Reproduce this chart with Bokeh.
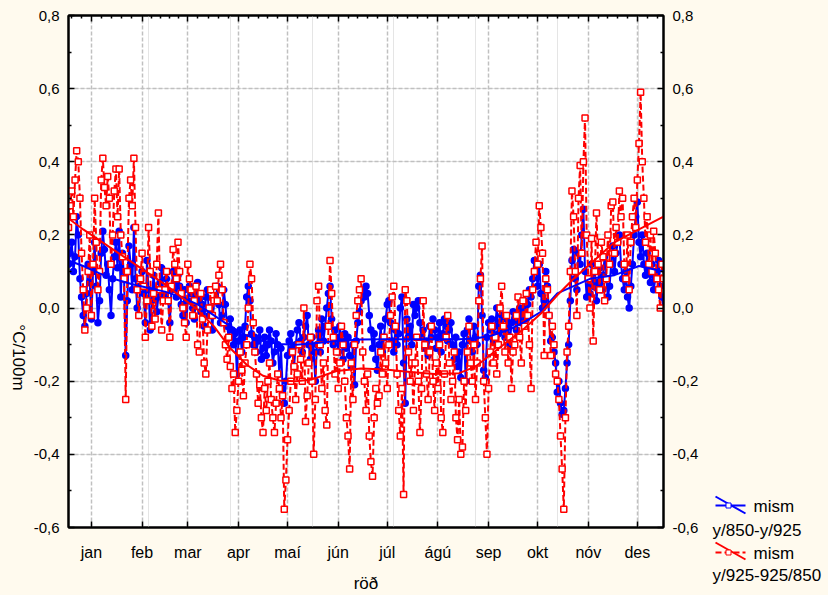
import math
from bokeh.plotting import figure
from bokeh.layouts import row
from bokeh.models import Range1d, FixedTicker, LinearAxis, Grid, ColumnDataSource
from bokeh.core.properties import value
from bokeh.embed import file_html
from bokeh.resources import INLINE

# ---------------- data ----------------
month_labels = ["jan", "feb", "mar", "apr", "maí", "jún", "júl", "ágú", "sep", "okt", "nóv", "des"]
month_pos = [15, 46, 74, 105, 135, 166, 196, 227, 258, 288, 319, 349]
ytick_vals = [-0.6, -0.4, -0.2, 0.0, 0.2, 0.4, 0.6, 0.8]
ytick_labels = ["-0,6", "-0,4", "-0,2", "0,0", "0,2", "0,4", "0,6", "0,8"]
y_title = "°C/100m"
x_title = "röð"
series_names = ["mism", "mism"]
series_sub = ["y/850-y/925", "y/925-925/850"]

# mism y/850-y/925 (blue), daily values by month
blue_jan = [0.12, 0.15, 0.18, 0.10, 0.14, 0.25, 0.20, 0.08, 0.03, -0.02, -0.05, 0.04, 0.12, 0.07, -0.03, 0.10,
            0.18, 0.06, -0.04, 0.02, 0.15, 0.21, 0.16, 0.09, 0.12, 0.05, -0.02, 0.08, 0.14, 0.18, 0.11]
blue_feb = [0.21, 0.03, 0.15, 0.08, -0.13, 0.02, 0.17, 0.12, 0.05, 0.22, 0.08, 0.00, -0.02, 0.06, 0.10, 0.04,
            -0.04, 0.13, 0.05, -0.06, 0.02, 0.09, 0.05, -0.01, 0.03, 0.07, 0.11, 0.04]
blue_mar = [0.04, 0.08, 0.02, -0.04, 0.05, 0.10, 0.07, 0.03, 0.09, 0.06, 0.01, -0.02, 0.05, -0.04, 0.02, 0.06,
            0.04, 0.00, -0.03, 0.03, 0.07, 0.02, -0.01, 0.01, -0.05, 0.03, 0.05, -0.02, 0.00, -0.06, 0.02]
blue_apr = [0.02, 0.06, 0.01, -0.04, -0.02, 0.05, 0.01, -0.05, -0.08, -0.03, -0.06, -0.10, -0.07, -0.18, -0.09,
            -0.06, -0.12, -0.08, -0.05, 0.03, 0.06, 0.02, -0.07, -0.10, -0.08, -0.12, -0.09, -0.06, -0.14, -0.11]
blue_may = [-0.08, -0.13, -0.10, -0.06, -0.09, -0.15, -0.12, -0.07, -0.10, -0.18, -0.11, -0.22, -0.26, -0.20,
            -0.13, -0.09, -0.07, -0.11, -0.16, -0.10, -0.06, -0.04, -0.09, -0.12, -0.08, -0.05, -0.02, -0.10,
            -0.14, -0.08, -0.12]
blue_jun = [-0.20, -0.10, -0.06, -0.12, -0.03, -0.09, -0.05, 0.00, 0.04, 0.06, -0.03, -0.10, -0.06, -0.08, -0.12,
            -0.05, -0.09, -0.14, -0.07, -0.11, -0.08, -0.13, -0.16, -0.10, -0.21, -0.09, -0.04, -0.01, 0.02, 0.05]
blue_jul = [0.03, 0.06, 0.04, -0.02, -0.06, -0.11, -0.07, -0.14, -0.17, -0.10, -0.05, -0.12, -0.08, -0.03, 0.01,
            0.02, -0.04, -0.09, -0.12, -0.06, -0.10, -0.07, 0.00, 0.03, -0.15, -0.26, -0.03, -0.08, -0.05, -0.10,
            0.01]
blue_aug = [-0.02, 0.00, 0.02, -0.04, -0.08, -0.06, -0.11, -0.09, -0.13, -0.05, -0.08, -0.03, -0.06, -0.11, -0.08,
            -0.04, -0.12, -0.07, -0.03, -0.05, -0.09, -0.06, -0.04, -0.10, -0.14, -0.08, -0.16, -0.12, -0.19,
            -0.10, -0.07]
blue_sep = [-0.20, -0.06, -0.03, -0.09, -0.12, -0.05, -0.08, -0.10, 0.06, 0.09, -0.02, -0.17, -0.19, -0.08, -0.04,
            -0.06, -0.03, -0.09, -0.05, 0.00, -0.07, -0.04, -0.02, -0.06, -0.08, -0.03, -0.05, -0.10, -0.04, -0.01]
blue_oct = [-0.03, -0.06, -0.02, 0.00, -0.04, -0.01, 0.02, -0.03, 0.01, 0.05, 0.03, 0.08, 0.13, 0.10, 0.06, 0.12,
            0.04, 0.00, 0.02, 0.10, 0.06, -0.02, -0.09, -0.08, -0.12, -0.15, -0.23, -0.20, -0.26, -0.29, -0.28]
blue_nov = [-0.22, -0.15, -0.10, 0.02, 0.13, 0.16, 0.08, 0.05, 0.15, 0.12, 0.20, 0.27, 0.10, 0.03, 0.08, 0.04,
            0.12, 0.06, 0.10, 0.02, 0.07, 0.11, 0.05, 0.09, 0.14, 0.08, 0.03, 0.06, 0.12, 0.17]
blue_dec = [0.10, 0.15, 0.18, 0.20, 0.12, 0.08, 0.05, 0.10, 0.03, 0.00, 0.06, 0.12, 0.20, 0.25, 0.29, 0.18, 0.14,
            0.20, 0.12, 0.09, 0.15, 0.10, 0.07, 0.12, 0.05, 0.08, 0.10, 0.13, 0.06, 0.03, 0.00]

# mism y/925-925/850 (red), daily values by month
red_jan = [0.22, 0.28, 0.32, 0.25, 0.35, 0.43, 0.40, 0.30, 0.15, 0.05, -0.06, 0.00, 0.10, 0.20, -0.02, 0.12, 0.30,
           0.18, 0.05, 0.10, 0.35, 0.41, 0.33, 0.28, 0.36, 0.30, 0.12, 0.20, 0.32, 0.38, 0.25]
red_feb = [0.38, 0.20, 0.14, 0.08, -0.25, 0.10, 0.30, 0.35, 0.28, 0.41, 0.22, 0.05, -0.02, 0.08, 0.15, 0.06,
           -0.08, 0.02, 0.22, 0.10, -0.05, 0.04, -0.03, 0.12, 0.26, 0.05, -0.06, 0.02]
red_mar = [0.05, 0.10, 0.02, -0.08, 0.06, 0.16, 0.12, 0.08, 0.18, 0.10, 0.04, 0.00, -0.04, -0.08, 0.12, 0.08,
           0.05, -0.02, 0.02, 0.06, -0.10, -0.12, 0.04, -0.03, -0.15, -0.18, -0.06, 0.00, 0.05, -0.02, 0.02]
red_apr = [0.06, 0.02, 0.09, 0.12, 0.05, -0.04, -0.10, -0.14, -0.08, -0.16, -0.22, -0.18, -0.34, -0.28, -0.20,
           -0.12, -0.17, -0.24, -0.15, -0.10, 0.00, 0.12, 0.08, -0.04, -0.12, -0.18, -0.26, -0.21, -0.30, -0.34]
red_may = [-0.22, -0.28, -0.20, -0.15, -0.25, -0.30, -0.34, -0.26, -0.18, -0.22, -0.30, -0.24, -0.55, -0.47,
           -0.36, -0.28, -0.20, -0.12, -0.16, -0.25, -0.18, -0.10, -0.14, -0.20, 0.00, -0.31, -0.24, -0.15, -0.08,
           -0.20, -0.40]
red_jun = [-0.25, 0.02, 0.06, -0.10, -0.22, -0.15, -0.28, -0.32, -0.05, 0.13, 0.04, -0.08, -0.18, -0.12, -0.22,
           -0.15, -0.05, -0.10, -0.20, -0.30, -0.35, -0.44, -0.15, -0.25, -0.10, -0.02, 0.02, 0.05, 0.08, -0.12]
red_jul = [-0.20, -0.28, -0.18, -0.35, -0.42, -0.46, -0.30, -0.22, -0.26, -0.24, -0.12, -0.18, -0.08, -0.15,
           -0.22, -0.10, -0.02, 0.03, 0.06, -0.05, -0.18, -0.28, -0.35, -0.22, -0.51, 0.05, 0.02, -0.12, -0.20,
           -0.15, -0.28]
red_aug = [-0.15, -0.08, -0.20, -0.34, -0.22, 0.02, -0.10, -0.18, -0.25, -0.12, -0.05, -0.20, -0.28, -0.15,
           -0.22, -0.10, -0.30, -0.34, -0.18, -0.08, -0.02, -0.15, -0.25, -0.20, -0.12, -0.30, -0.36, -0.25, -0.40,
           -0.38, -0.20]
red_sep = [-0.28, -0.12, -0.05, -0.15, -0.20, -0.10, -0.25, -0.15, 0.02, 0.08, 0.17, -0.20, -0.30, -0.40, -0.22,
           -0.12, -0.05, -0.15, -0.08, -0.18, -0.10, 0.00, 0.06, -0.05, -0.12, -0.02, -0.15, -0.08, -0.22, -0.12]
red_oct = [-0.10, -0.02, 0.03, -0.08, -0.15, 0.02, -0.05, 0.04, -0.02, -0.10, -0.22, 0.05, 0.10, 0.18, 0.12, 0.28,
           0.22, 0.15, -0.13, 0.08, 0.05, -0.02, -0.13, -0.05, -0.10, -0.18, -0.20, -0.25, -0.35, -0.44, -0.55]
red_nov = [-0.30, -0.12, -0.05, 0.10, 0.32, 0.25, 0.10, -0.02, 0.30, 0.39, 0.15, 0.40, 0.52, 0.20, 0.08, 0.00,
           0.19, -0.09, 0.10, 0.26, 0.12, 0.05, 0.18, 0.14, 0.02, 0.08, 0.20, 0.12, 0.28, 0.29]
red_dec = [0.15, 0.22, 0.18, 0.32, 0.25, 0.30, 0.12, 0.08, 0.20, 0.05, 0.18, 0.25, 0.30, 0.22, 0.35, 0.45, 0.59,
           0.40, 0.30, 0.18, 0.25, 0.12, 0.20, 0.10, 0.21, 0.15, 0.08, 0.05, 0.00, 0.12, 0.08]

# smoothed fits (read at these days)
fit_days = [1, 10, 20, 30, 40, 50, 60, 70, 80, 90, 100, 110, 120, 130, 140, 150, 165, 180, 195, 210, 225, 240,
            250, 260, 270, 280, 290, 300, 310, 320, 335, 350, 365]
blue_fit = [0.13, 0.115, 0.095, 0.078, 0.065, 0.055, 0.045, 0.03, 0.01, -0.02, -0.05, -0.075, -0.09, -0.098,
            -0.1, -0.097, -0.09, -0.086, -0.085, -0.085, -0.085, -0.085, -0.083, -0.075, -0.06, -0.038, -0.01,
            0.04, 0.06, 0.08, 0.09, 0.115, 0.1]
red_fit = [0.245, 0.215, 0.185, 0.155, 0.125, 0.095, 0.065, 0.03, -0.005, -0.05, -0.11, -0.155, -0.185, -0.198,
           -0.2, -0.195, -0.172, -0.165, -0.168, -0.175, -0.18, -0.178, -0.16, -0.125, -0.09, -0.055, -0.015,
           0.035, 0.08, 0.12, 0.18, 0.215, 0.25]

blue_vals = (blue_jan + blue_feb + blue_mar + blue_apr + blue_may + blue_jun + blue_jul + blue_aug + blue_sep
             + blue_oct + blue_nov + blue_dec)
red_vals = (red_jan + red_feb + red_mar + red_apr + red_may + red_jun + red_jul + red_aug + red_sep
            + red_oct + red_nov + red_dec)
assert len(blue_vals) == 365, len(blue_vals)
assert len(red_vals) == 365, len(red_vals)
days = list(range(1, len(blue_vals) + 1))

# ---------------- style / layout ----------------
CREAM = "#FFFAEE"
FONT = "Liberation Sans"
BLUE = "#0000FF"
RED = "#FF0000"
H = 595
LEFT_W = 30                      # strip with the y-axis title
MAIN_L, MAIN_R = 38, 45          # main plot borders
FRAME_W, FRAME_H = 595, 512
MAIN_T = 15
LEG_W = 828 - LEFT_W - (MAIN_L + FRAME_W + MAIN_R)   # strip with the legend

src = ColumnDataSource(dict(day=days, blue=blue_vals, red=red_vals))
fit_src = ColumnDataSource(dict(day=fit_days, blue=blue_fit, red=red_fit))

p = figure(frame_width=FRAME_W, frame_height=FRAME_H,
           x_range=Range1d(1, 365), y_range=Range1d(-0.6, 0.8),
           output_backend="svg", toolbar_location=None,
           x_axis_location=None, y_axis_location=None,
           min_border_left=MAIN_L, min_border_right=MAIN_R, min_border_top=MAIN_T,
           min_border_bottom=H - MAIN_T - FRAME_H,
           background_fill_color="white", border_fill_color=CREAM,
           outline_line_color="black", outline_line_width=2)

yminor = [(a + b) / 2 for a, b in zip(ytick_vals[:-1], ytick_vals[1:])]
xticker = FixedTicker(ticks=month_pos)
yticker = FixedTicker(ticks=ytick_vals, minor_ticks=yminor)
top_minor = []
for a, b in zip([month_pos[0] - 31] + month_pos, month_pos + [month_pos[-1] + 31]):
    for k in range(1, 5):
        v = a + (b - a) * k / 5
        if 1 <= v <= 365:
            top_minor.append(v)

grid_kw = dict(grid_line_color="#C0C0C0", grid_line_dash="4 2", grid_line_width=1.5)
p.add_layout(Grid(dimension=0, ticker=xticker, **grid_kw))
p.add_layout(Grid(dimension=1, ticker=yticker, **grid_kw))

axis_kw = dict(major_label_text_font=FONT,
               axis_label_text_font=FONT, axis_label_text_font_size="17px",
               axis_label_text_font_style="normal",
               major_tick_in=6, major_tick_out=0, minor_tick_in=3, minor_tick_out=0,
               axis_line_width=2, major_tick_line_width=1.5, minor_tick_line_width=1.5,
               major_label_text_color="black", axis_label_text_color="black")

ylab = {v: s for v, s in zip(ytick_vals, ytick_labels)}
left = LinearAxis(ticker=yticker, major_label_overrides=ylab, major_label_standoff=9,
                  major_label_text_font_size="15px", **axis_kw)
right = LinearAxis(ticker=yticker, major_label_overrides=ylab, major_label_standoff=9,
                   major_label_text_font_size="15px", **axis_kw)
bottom = LinearAxis(ticker=xticker, axis_label=x_title,
                    major_label_overrides={v: s for v, s in zip(month_pos, month_labels)},
                    major_label_standoff=16, axis_label_standoff=10,
                    major_label_text_font_size="16px", **axis_kw)
top = LinearAxis(ticker=FixedTicker(ticks=month_pos, minor_ticks=top_minor),
                 major_label_overrides={v: "" for v in month_pos},
                 major_label_standoff=0, major_label_text_font_size="15px", **axis_kw)
p.add_layout(left, "left")
p.add_layout(right, "right")
p.add_layout(bottom, "below")
p.add_layout(top, "above")

# series
p.line("day", "blue", source=src, line_color=BLUE, line_width=2)
p.scatter("day", "blue", source=src, marker="circle", size=6, line_color=BLUE,
          line_width=1.5, fill_color=BLUE)
p.line("day", "red", source=src, line_color=RED, line_width=2, line_dash="6 3")
p.scatter("day", "red", source=src, marker="square", size=6, line_color=RED,
          line_width=1.5, fill_color="white")
p.line("day", "blue", source=fit_src, line_color=BLUE, line_width=2)
p.line("day", "red", source=fit_src, line_color=RED, line_width=2)


def strip(width):
    f = figure(frame_width=width, frame_height=H, x_range=Range1d(0, width), y_range=Range1d(H, 0),
               output_backend="svg", toolbar_location=None, min_border=0,
               x_axis_location=None, y_axis_location=None,
               background_fill_color=CREAM, border_fill_color=CREAM, outline_line_color=None)
    f.xgrid.visible = False
    f.ygrid.visible = False
    return f


# ---- y-axis title strip (reads top to bottom) ----
yl = strip(LEFT_W)
yl.text(x=[18], y=[342], text=[y_title], angle=-math.pi / 2, text_font=value(FONT),
        text_font_size="17px", text_align="center", text_baseline="middle", text_color="black")

# ---- legend strip (local x 0 = page x 708) ----
lg = strip(LEG_W)
lg.line(x=[7, 37], y=[490, 490], line_color=BLUE, line_width=2)
lg.line(x=[7, 37], y=[481, 498], line_color=BLUE, line_width=2)
lg.scatter(x=[20], y=[490], marker="square", size=5, line_color=BLUE, fill_color="white", line_width=1)
lg.line(x=[7, 37], y=[537, 537], line_color=RED, line_width=2, line_dash="6 3")
lg.line(x=[7, 37], y=[527, 544], line_color=RED, line_width=2)
lg.scatter(x=[20], y=[537], marker="square", size=5, line_color=RED, fill_color="white", line_width=1)
lg.text(x=[45, 4, 45, 4], y=[491, 515, 538, 560],
        text=[series_names[0], series_sub[0], series_names[1], series_sub[1]],
        text_font=value(FONT), text_font_size="17px", text_align="left", text_baseline="middle",
        text_color="black")

layout = row(yl, p, lg, spacing=0)
layout.styles = {"background-color": CREAM}
open("out.html", "w").write(file_html(layout, INLINE))
